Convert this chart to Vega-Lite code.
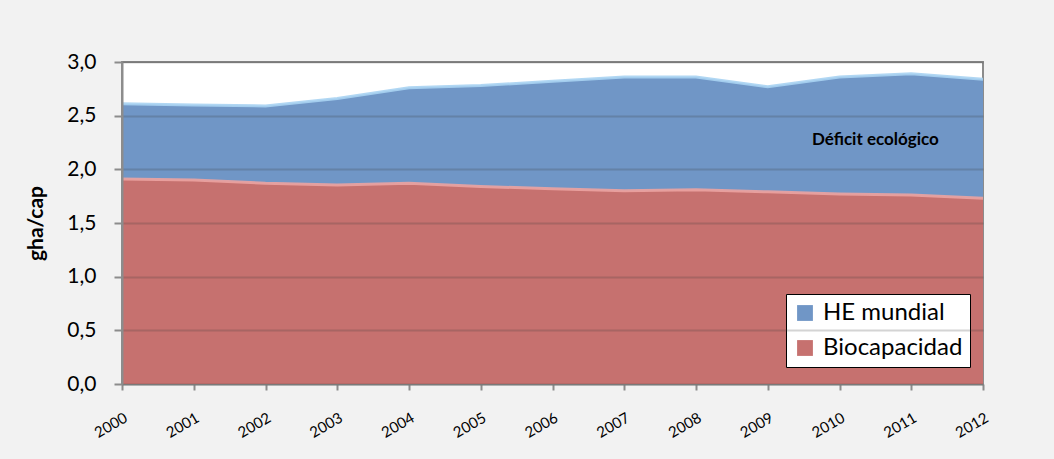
{
  "$schema": "https://vega.github.io/schema/vega-lite/v6.json",
  "width": 861,
  "height": 322,
  "autosize": {"type": "none"},
  "padding": {"left": 122, "top": 62, "right": 71, "bottom": 75},
  "background": "#f2f2f2",
  "config": {
    "font": "Lato",
    "view": {"fill": "#ffffff", "stroke": "#8c8c8c", "strokeWidth": 2}
  },
  "datasets": {
    "series": [
      {"year": 2000, "serie": "HE mundial", "value": 2.61},
      {"year": 2001, "serie": "HE mundial", "value": 2.6},
      {"year": 2002, "serie": "HE mundial", "value": 2.59},
      {"year": 2003, "serie": "HE mundial", "value": 2.66},
      {"year": 2004, "serie": "HE mundial", "value": 2.76},
      {"year": 2005, "serie": "HE mundial", "value": 2.78},
      {"year": 2006, "serie": "HE mundial", "value": 2.82},
      {"year": 2007, "serie": "HE mundial", "value": 2.86},
      {"year": 2008, "serie": "HE mundial", "value": 2.86},
      {"year": 2009, "serie": "HE mundial", "value": 2.77},
      {"year": 2010, "serie": "HE mundial", "value": 2.86},
      {"year": 2011, "serie": "HE mundial", "value": 2.89},
      {"year": 2012, "serie": "HE mundial", "value": 2.84},
      {"year": 2000, "serie": "Biocapacidad", "value": 1.91},
      {"year": 2001, "serie": "Biocapacidad", "value": 1.9},
      {"year": 2002, "serie": "Biocapacidad", "value": 1.87},
      {"year": 2003, "serie": "Biocapacidad", "value": 1.855},
      {"year": 2004, "serie": "Biocapacidad", "value": 1.87},
      {"year": 2005, "serie": "Biocapacidad", "value": 1.84},
      {"year": 2006, "serie": "Biocapacidad", "value": 1.82},
      {"year": 2007, "serie": "Biocapacidad", "value": 1.8},
      {"year": 2008, "serie": "Biocapacidad", "value": 1.81},
      {"year": 2009, "serie": "Biocapacidad", "value": 1.79},
      {"year": 2010, "serie": "Biocapacidad", "value": 1.77},
      {"year": 2011, "serie": "Biocapacidad", "value": 1.76},
      {"year": 2012, "serie": "Biocapacidad", "value": 1.73}
    ],
    "notes": [
      {"year": 2010.5, "value": 2.27, "label": "Déficit ecológico"}
    ]
  },
  "layer": [
    {
      "data": {"name": "series"},
      "transform": [{"filter": "datum.serie === 'HE mundial'"}],
      "mark": {"type": "area", "opacity": 1},
      "encoding": {
        "x": {"field": "year", "type": "quantitative"},
        "y": {"field": "value", "type": "quantitative"},
        "color": {
          "field": "serie",
          "type": "nominal",
          "scale": {"domain": ["HE mundial", "Biocapacidad"], "range": ["#7096c6", "#c6716f"]},
          "legend": {
            "title": null,
            "orient": "none",
            "legendX": 664,
            "legendY": 232,
            "fillColor": "#ffffff",
            "strokeColor": "#000000",
            "padding": 7,
            "symbolType": "square",
            "symbolSize": 250,
            "symbolStrokeWidth": 0,
            "labelFontSize": 24,
            "labelColor": "#000000",
            "labelLimit": 300,
            "rowPadding": 11,
            "labelOffset": 6
          }
        }
      }
    },
    {
      "data": {"name": "series"},
      "transform": [{"filter": "datum.serie === 'HE mundial'"}],
      "mark": {"type": "line", "color": "#a9d3f2", "strokeWidth": 3, "opacity": 0.9},
      "encoding": {
        "x": {"field": "year", "type": "quantitative"},
        "y": {"field": "value", "type": "quantitative"}
      }
    },
    {
      "data": {"name": "series"},
      "transform": [{"filter": "datum.serie === 'Biocapacidad'"}],
      "mark": {"type": "area", "opacity": 1},
      "encoding": {
        "x": {"field": "year", "type": "quantitative"},
        "y": {"field": "value", "type": "quantitative"},
        "color": {"field": "serie", "type": "nominal"}
      }
    },
    {
      "data": {"name": "series"},
      "transform": [{"filter": "datum.serie === 'Biocapacidad'"}],
      "mark": {"type": "line", "color": "#eba3a1", "strokeWidth": 3, "opacity": 0.9},
      "encoding": {
        "x": {"field": "year", "type": "quantitative"},
        "y": {"field": "value", "type": "quantitative"}
      }
    },
    {
      "data": {"name": "notes"},
      "mark": {"type": "text", "fontWeight": "bold", "fontSize": 17, "color": "#000000", "align": "center", "baseline": "middle"},
      "encoding": {
        "x": {"field": "year", "type": "quantitative"},
        "y": {"field": "value", "type": "quantitative"},
        "text": {"field": "label"}
      }
    }
  ],
  "encoding": {
    "x": {
      "field": "year",
      "type": "quantitative",
      "scale": {"domain": [2000, 2012], "nice": false, "zero": false},
      "axis": {
        "title": null,
        "values": [2000, 2001, 2002, 2003, 2004, 2005, 2006, 2007, 2008, 2009, 2010, 2011, 2012],
        "format": "d",
        "grid": false,
        "domainColor": "#8c8c8c",
        "domainWidth": 2,
        "tickColor": "#8c8c8c",
        "tickWidth": 2,
        "tickSize": 6,
        "labelAngle": -30,
        "labelAlign": "right",
        "labelBaseline": "top",
        "labelPadding": 20,
        "labelFontSize": 15,
        "labelColor": "#000000"
      }
    },
    "y": {
      "field": "value",
      "type": "quantitative",
      "scale": {"domain": [0, 3], "nice": false},
      "axis": {
        "title": "gha/cap",
        "titleFontSize": 21,
        "titleFontWeight": "bold",
        "titleColor": "#000000",
        "titlePadding": 20,
        "values": [0, 0.5, 1, 1.5, 2, 2.5, 3],
        "labelExpr": "replace(format(datum.value, '.1f'), '.', ',')",
        "labelFontSize": 21,
        "labelColor": "#000000",
        "labelPadding": 18,
        "domainColor": "#8c8c8c",
        "domainWidth": 2,
        "tickColor": "#8c8c8c",
        "tickWidth": 2,
        "tickSize": 8,
        "grid": true,
        "gridColor": "#3a3a3a",
        "gridOpacity": 0.22,
        "gridWidth": 2,
        "zindex": 1
      }
    }
  }
}
